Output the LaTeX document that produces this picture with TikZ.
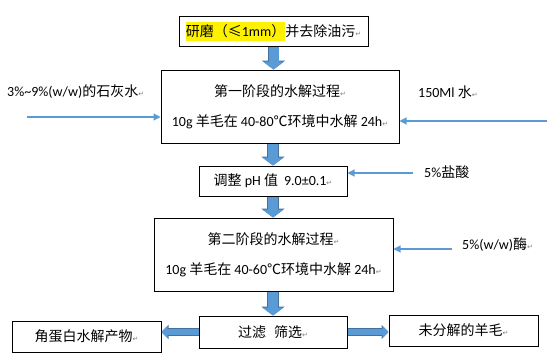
\documentclass[tikz,border=0pt]{standalone}
\usepackage{fontspec}
\setmainfont{Carlito}
\newfontfamily\cjk{Noto Sans CJK SC}
\newfontfamily\symf{DejaVu Sans}
\usetikzlibrary{arrows.meta}
\definecolor{wordblue}{HTML}{5B9BD5}
\definecolor{wordline}{HTML}{41719C}
\newcommand{\parmark}{{\symf\fontsize{7pt}{7pt}\selectfont\textcolor{black!50}{↵}}}
\newcommand{\hilite}[1]{{\setlength{\fboxsep}{0pt}\colorbox{yellow}{\rule[-4.5pt]{0pt}{19pt}#1}}}
\begin{document}
\begin{tikzpicture}[x=1pt,y=-1pt,font=\fontsize{14pt}{16pt}\selectfont]
		\tikzstyle{box}=[draw=black,line width=1pt,inner sep=0pt,align=center]
		\tikzstyle{tag}=[anchor=west,inner sep=0pt]
		\tikzstyle{feed}=[draw=wordblue,line width=1.1pt,-{Triangle[length=7pt,width=7pt]}]
		\tikzstyle{bigdown}=[draw=wordblue,line width=10pt,-{Triangle[length=8pt,width=21pt]},
			preaction={draw=wordline,line width=11.4pt,-{Triangle[length=9pt,width=23pt]}}]
		\tikzstyle{bigside}=[draw=wordblue,line width=6pt,-{Triangle[length=6pt,width=12pt]},
			preaction={draw=wordline,line width=7.4pt,-{Triangle[length=7pt,width=14pt]}}]
		\useasboundingbox (0,0) rectangle (547,362);
		% process boxes
		\node[box,minimum width=189pt,minimum height=30pt] (mill) at (273.5,31)
			{\cjk\hilite{研磨（≤{\rmfamily 1mm}）}并去除油污\parmark};
		\node[box,minimum width=238pt,minimum height=73pt] (st1) at (280,106.5)
			{{\cjk 第一阶段的水解过程}\parmark\\[14pt]
			10g {\cjk 羊毛在} 40-80{\cjk ℃环境中水解} 24h\parmark};
		\node[box,minimum width=148pt,minimum height=30pt] (ph) at (273,181)
			{{\cjk 调整} pH {\cjk 值}\hspace{6pt}9.0±0.1\parmark};
		\node[box,minimum width=239pt,minimum height=73pt] (st2) at (273.5,254.5)
			{{\cjk 第二阶段的水解过程}\parmark\\[14pt]
			10g {\cjk 羊毛在} 40-60{\cjk ℃环境中水解} 24h\parmark};
		\node[box,minimum width=148pt,minimum height=32pt] (filt) at (273,332)
			{{\cjk 过滤}\hspace{8pt}{\cjk 筛选}\parmark};
		\node[box,minimum width=149pt,minimum height=31pt] (prod) at (86.5,336.5)
			{{\cjk 角蛋白水解产物}\parmark};
		\node[box,minimum width=149pt,minimum height=31pt] (rest) at (463.5,330.5)
			{{\cjk 未分解的羊毛}\parmark};
		% inputs
		\node[tag] (lime) at (7,92) {3\%\textasciitilde 9\%(w/w){\cjk 的石灰水}\parmark};
		\node[tag] (water) at (418,92) {150Ml {\cjk 水}\parmark};
		\node[tag] (acid) at (424,172) {5\%{\cjk 盐酸}};
		\node[tag] (enz) at (462,245) {5\%(w/w){\cjk 酶}\parmark};
		\coordinate (limeS) at (27,117);
		\coordinate (waterS) at (547,121);
		\coordinate (acidS) at (413,173);
		\coordinate (enzS) at (452,249);
		\draw[feed] (limeS) -- (limeS -| st1.west);
		\draw[feed] (waterS) -- (waterS -| st1.east);
		\draw[feed] (acidS) -- (acidS -| ph.east);
		\draw[feed] (enzS) -- (enzS -| st2.east);
		% flow
		\draw[bigdown] (mill.south) -- (mill.south |- st1.north);
		\draw[bigdown] (ph.north |- st1.south) -- (ph.north);
		\draw[bigdown] (ph.south) -- (ph.south |- st2.north);
		\draw[bigdown] (filt.north |- st2.south) -- (filt.north);
		\draw[bigside] (filt.west) -- (filt.west -| prod.east);
		\draw[bigside] (filt.east) -- (filt.east -| rest.west);
\end{tikzpicture}
\end{document}
